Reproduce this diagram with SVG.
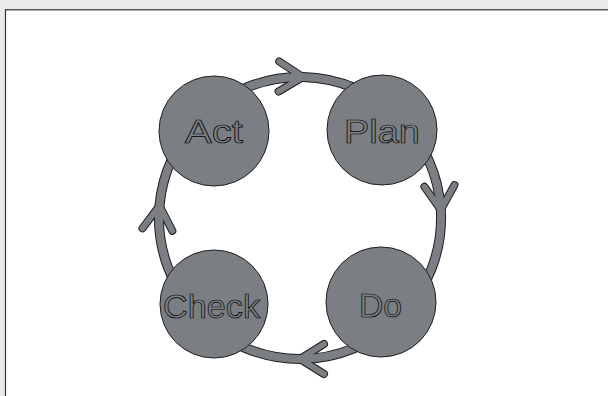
<svg xmlns="http://www.w3.org/2000/svg" width="608" height="396" viewBox="0 0 608 396">
  <style>
    .node { fill: #7b7f83; stroke: #1e1e1e; stroke-width: 1; }
    .label { font-family: "Liberation Sans", Arial, sans-serif; font-size: 34px; fill: #7b7f83; stroke: #000; stroke-width: 0.7; text-anchor: middle; }
    .band-o { fill: none; stroke: #1e1e1e; stroke-width: 10; }
    .band-i { fill: none; stroke: #7b7f83; stroke-width: 8; }
  </style>
  <defs>
    <marker id="chev-o" markerUnits="userSpaceOnUse" orient="auto" overflow="visible" markerWidth="1" markerHeight="1" refX="0" refY="0">
      <path d="M-24,-15 L0,0 L-24,15" fill="none" stroke="#1e1e1e" stroke-width="8" stroke-linecap="round" stroke-linejoin="round"/>
    </marker>
    <marker id="chev-i" markerUnits="userSpaceOnUse" orient="auto" overflow="visible" markerWidth="1" markerHeight="1" refX="0" refY="0">
      <path d="M-24,-15 L0,0 L-24,15" fill="none" stroke="#7b7f83" stroke-width="6" stroke-linecap="round" stroke-linejoin="round"/>
    </marker>
  </defs>
  <rect x="0" y="0" width="608" height="396" fill="#e9eaeb"/>
  <rect x="6" y="10" width="602" height="386" fill="#ffffff"/>
  <line x1="5" y1="9.5" x2="608" y2="9.5" stroke="#5a5a5a" stroke-width="1"/>
  <line x1="6" y1="10.5" x2="608" y2="10.5" stroke="#a8a8a8" stroke-width="1"/>
  <line x1="5.5" y1="9" x2="5.5" y2="396" stroke="#333" stroke-width="1.2"/>

  <g id="connectors">
    <path class="band-o" marker-mid="url(#chev-o)" d="M200.3,118.3 A141,141 0 0 1 302.9,77 A141,141 0 0 1 399.7,118.3"/>
    <path class="band-o" marker-mid="url(#chev-o)" d="M399.7,118.3 A141,141 0 0 1 440.8,209.9 A141,141 0 0 1 399.7,317.7"/>
    <path class="band-o" marker-mid="url(#chev-o)" d="M399.7,317.7 A141,141 0 0 1 300,359 A141,141 0 0 1 200.3,317.7"/>
    <path class="band-o" marker-mid="url(#chev-o)" d="M200.3,317.7 A141,141 0 0 1 159.5,205.7 A141,141 0 0 1 200.3,118.3"/>
    <path class="band-i" marker-mid="url(#chev-i)" d="M200.3,118.3 A141,141 0 0 1 302.9,77 A141,141 0 0 1 399.7,118.3"/>
    <path class="band-i" marker-mid="url(#chev-i)" d="M399.7,118.3 A141,141 0 0 1 440.8,209.9 A141,141 0 0 1 399.7,317.7"/>
    <path class="band-i" marker-mid="url(#chev-i)" d="M399.7,317.7 A141,141 0 0 1 300,359 A141,141 0 0 1 200.3,317.7"/>
    <path class="band-i" marker-mid="url(#chev-i)" d="M200.3,317.7 A141,141 0 0 1 159.5,205.7 A141,141 0 0 1 200.3,118.3"/>
  </g>

  <g id="act">
    <circle class="node" cx="214" cy="131" r="55"/>
    <text class="label" x="214" y="143" textLength="58" lengthAdjust="spacingAndGlyphs">Act</text>
  </g>
  <g id="plan">
    <circle class="node" cx="382" cy="130" r="55"/>
    <text class="label" x="382" y="143" textLength="76" lengthAdjust="spacingAndGlyphs">Plan</text>
  </g>
  <g id="do">
    <circle class="node" cx="381" cy="302" r="55"/>
    <text class="label" x="380.5" y="317" textLength="43" lengthAdjust="spacingAndGlyphs">Do</text>
  </g>
  <g id="check">
    <circle class="node" cx="214" cy="304" r="54"/>
    <text class="label" x="211.5" y="318" textLength="97" lengthAdjust="spacingAndGlyphs">Check</text>
  </g>
</svg>
